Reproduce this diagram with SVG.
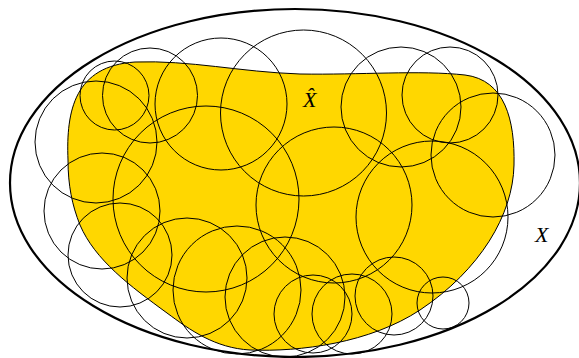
<svg xmlns="http://www.w3.org/2000/svg" width="579" height="358" viewBox="0 0 579 358">
<style>
.c{fill:none;stroke:#000;stroke-width:1}
.lbl{font-family:"Liberation Serif","DejaVu Serif",serif;font-style:italic;fill:#000}
</style>
<rect width="579" height="358" fill="#fff"/>
<g id="space-X">
<ellipse cx="295" cy="183" rx="285" ry="174" fill="none" stroke="#000" stroke-width="2.2"/>
</g>
<g id="region-Xhat">
<path d="M 68,160 C 66,110 75,66 135,62 C 190,60 240,72 300,74 C 360,75 420,70 465,75 C 505,80 515,120 514,165 C 513,215 480,270 420,310 C 370,343 300,352 250,350 C 215,348 190,330 167,313 C 130,286 95,260 80,225 C 72,205 68,185 68,160 Z" fill="#FFD700" stroke="#000" stroke-width="1"/>
</g>
<g id="cover">
<circle class="c" cx="114.5" cy="95.5" r="34.5"/>
<circle class="c" cx="150" cy="95.5" r="47.5"/>
<circle class="c" cx="221" cy="104" r="66"/>
<circle class="c" cx="303.5" cy="113" r="83"/>
<circle class="c" cx="206" cy="199" r="93"/>
<circle class="c" cx="96" cy="142" r="61"/>
<circle class="c" cx="102" cy="211" r="58"/>
<circle class="c" cx="120" cy="255" r="52"/>
<circle class="c" cx="187" cy="278" r="60"/>
<circle class="c" cx="237" cy="290" r="64"/>
<circle class="c" cx="285" cy="297" r="60"/>
<circle class="c" cx="313" cy="314" r="39"/>
<circle class="c" cx="352" cy="314" r="40"/>
<circle class="c" cx="394" cy="296" r="39"/>
<circle class="c" cx="443" cy="303" r="26"/>
<circle class="c" cx="334" cy="205" r="78"/>
<circle class="c" cx="432" cy="217" r="76"/>
<circle class="c" cx="401" cy="107" r="60"/>
<circle class="c" cx="450" cy="95" r="48"/>
<circle class="c" cx="493" cy="155" r="62"/>
</g>
<g id="labels">
<text class="lbl" x="303" y="107" font-size="22">X̂</text>
<text class="lbl" x="535" y="242" font-size="22">X</text>
</g>
</svg>
